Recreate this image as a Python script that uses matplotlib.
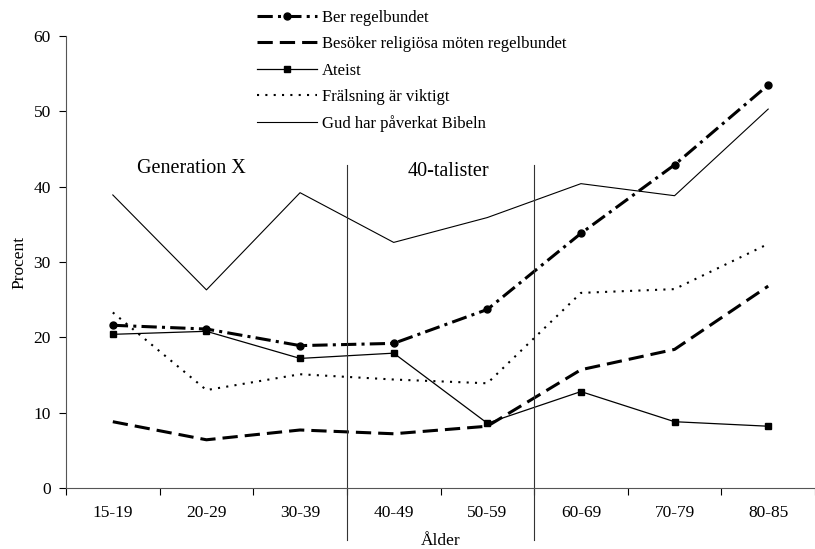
import matplotlib
matplotlib.use("Agg")
import matplotlib.pyplot as plt

plt.rcParams['font.family'] = ['Liberation Serif', 'DejaVu Serif']

# Data
ages = ["15-19", "20-29", "30-39", "40-49", "50-59", "60-69", "70-79", "80-85"]
ber = [21.6, 21.1, 18.9, 19.2, 23.7, 33.8, 42.9, 53.5]
besoker = [8.8, 6.4, 7.7, 7.2, 8.2, 15.7, 18.4, 26.8]
ateist = [20.4, 20.8, 17.2, 17.9, 8.6, 12.8, 8.8, 8.2]
fralsning = [23.3, 13.0, 15.1, 14.4, 13.9, 25.9, 26.4, 32.4]
gud = [38.9, 26.3, 39.2, 32.6, 35.9, 40.4, 38.8, 50.3]
labels = ["Ber regelbundet", "Besöker religiösa möten regelbundet", "Ateist",
          "Frälsning är viktigt", "Gud har påverkat Bibeln"]
generations = ["Generation X", "40-talister"]

fig = plt.figure(figsize=(8.15, 5.49), dpi=100)
ax = fig.add_axes([66 / 815, 61 / 549, 749 / 815, 452 / 549])

x = list(range(len(ages)))
l1, = ax.plot(x, ber, color='black', lw=2.2, linestyle=(0, (5, 1.7, 1, 1.7)),
              marker='o', markersize=5)
l2, = ax.plot(x, besoker, color='black', lw=2.2, linestyle=(0, (5, 2.3)))
l3, = ax.plot(x, ateist, color='black', lw=0.9, marker='s', markersize=5)
l4, = ax.plot(x, fralsning, color='black', lw=1.5, linestyle=(0, (1, 3)))
l5, = ax.plot(x, gud, color='black', lw=0.8)

# generationsgränser
for xv in (2.5, 4.5):
    ax.plot([xv, xv], [-6.9, 42.9], color='#333333', lw=0.8, clip_on=False)
ax.text(0.84, 42.4, generations[0], fontsize=14.5, ha='center', va='center')
ax.text(3.58, 42.0, generations[1], fontsize=14.5, ha='center', va='center')

ax.set_xlim(-0.5, 7.45)
ax.set_ylim(0, 60)
ax.set_yticks(range(0, 61, 10))
ax.set_xticks([i - 0.5 for i in range(len(ages) + 1)])
ax.set_xticklabels([])
ax.set_xticks(x, minor=True)
ax.set_xticklabels(ages, minor=True)
ax.tick_params(axis='x', which='minor', length=0, pad=12, labelsize=12.5)
ax.tick_params(axis='x', which='major', length=5, direction='out', width=0.8)
ax.tick_params(axis='y', length=5, direction='out', width=0.8, labelsize=12.5, pad=6)
for s in ('top', 'right'):
    ax.spines[s].set_visible(False)
ax.spines['left'].set_color('#555555')
ax.spines['bottom'].set_color('#555555')

ax.set_ylabel("Procent", fontsize=12.5, labelpad=4)
ax.set_xlabel("Ålder", fontsize=12.5, labelpad=9)

fig.legend([l1, l2, l3, l4, l5], labels, loc='upper left',
           bbox_to_anchor=(257 / 815, 1 - 10 / 549), frameon=False,
           fontsize=12, handlelength=3.6, handletextpad=0.3,
           labelspacing=0.62, borderpad=0, borderaxespad=0)

fig.savefig("out.png", dpi=100)
